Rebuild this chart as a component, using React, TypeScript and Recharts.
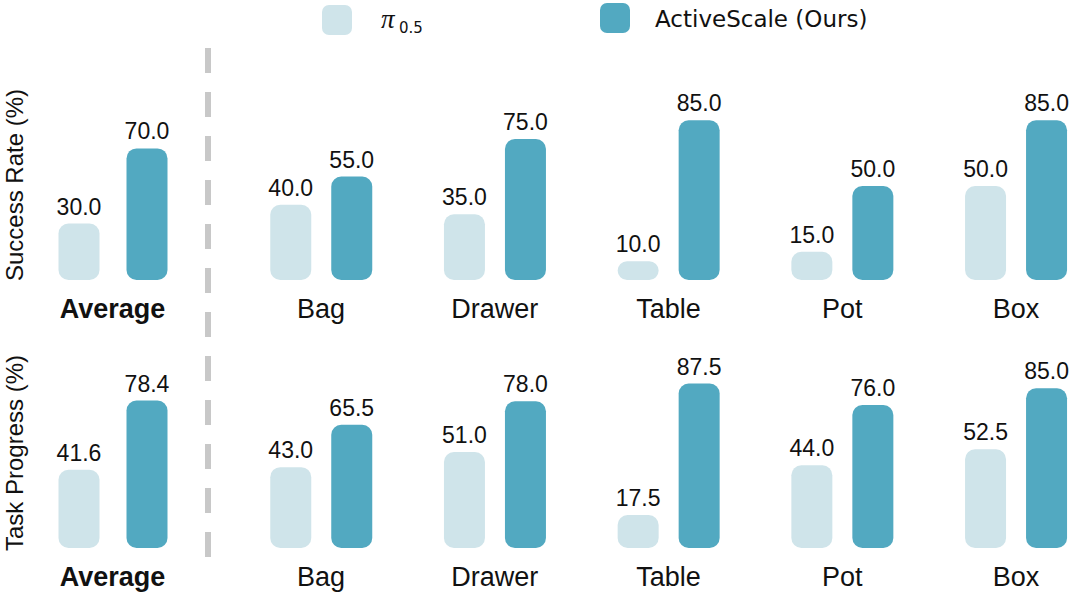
import { Bar, BarChart, LabelList, XAxis, YAxis } from "recharts";

const avgCategory = ["Average"];
const taskCategories = ["Bag", "Drawer", "Table", "Pot", "Box"];

const successBaseAvg = [30.0];
const successOursAvg = [70.0];
const successBase = [40.0, 35.0, 10.0, 15.0, 50.0];
const successOurs = [55.0, 75.0, 85.0, 50.0, 85.0];

const progressBaseAvg = [41.6];
const progressOursAvg = [78.4];
const progressBase = [43.0, 51.0, 17.5, 44.0, 52.5];
const progressOurs = [65.5, 78.0, 87.5, 76.0, 85.0];

const LIGHT = "#cfe4ea";
const DARK = "#52a9c1";
const FONT = "'Liberation Sans', Arial, Helvetica, sans-serif";

function build(names: string[], base: number[], ours: number[]) {
  return names.map((name, i) => ({ name, base: base[i], ours: ours[i] }));
}

function Row({
  names,
  base,
  ours,
  left,
  plotWidth,
  top,
  gap,
  bold,
}: {
  names: string[];
  base: number[];
  ours: number[];
  left: number;
  plotWidth: number;
  top: number;
  gap: number;
  bold?: boolean;
}) {
  const data = build(names, base, ours);
  const width = 1071;
  return (
    <div style={{ position: "absolute", left: 0, top }}>
      <BarChart
        width={width}
        height={290}
        data={data}
        margin={{ top: 52, right: width - left - plotWidth, bottom: 0, left }}
        barGap={gap}
        barSize={41}
      >
        <XAxis
          dataKey="name"
          axisLine={false}
          tickLine={false}
          tickSize={0}
          tickMargin={19}
          height={50}
          interval={0}
          tick={{
            fill: "#111",
            fontSize: 27,
            fontFamily: FONT,
            fontWeight: bold ? 700 : 400,
          }}
        />
        <YAxis hide domain={[0, 100]} />
        <Bar dataKey="base" fill={LIGHT} radius={[10, 10, 10, 10]} isAnimationActive={false}>
          <LabelList
            dataKey="base"
            position="top"
            offset={9}
            formatter={(v: number) => v.toFixed(1)}
            style={{ fill: "#111", fontSize: 23, fontFamily: FONT }}
          />
        </Bar>
        <Bar dataKey="ours" fill={DARK} radius={[10, 10, 10, 10]} isAnimationActive={false}>
          <LabelList
            dataKey="ours"
            position="top"
            offset={9}
            formatter={(v: number) => v.toFixed(1)}
            style={{ fill: "#111", fontSize: 23, fontFamily: FONT }}
          />
        </Bar>
      </BarChart>
    </div>
  );
}

export default function App() {
  return (
    <div
      style={{
        position: "fixed",
        left: 0,
        top: 0,
        width: 1071,
        height: 597,
        overflow: "hidden",
        background: "#fff",
        fontFamily: FONT,
      }}
    >
      <Row names={avgCategory} base={successBaseAvg} ours={successOursAvg} left={42.5} plotWidth={140} top={40} gap={27} bold />
      <Row names={taskCategories} base={successBase} ours={successOurs} left={234.25} plotWidth={868.5} top={40} gap={20} />
      <Row names={avgCategory} base={progressBaseAvg} ours={progressOursAvg} left={42.5} plotWidth={140} top={308} gap={27} bold />
      <Row names={taskCategories} base={progressBase} ours={progressOurs} left={234.25} plotWidth={868.5} top={308} gap={20} />

      <svg width={1071} height={597} style={{ position: "absolute", left: 0, top: 0, pointerEvents: "none" }}>
        {/* legend */}
        <rect x={322} y={5} width={30} height={30} rx={7} fill={LIGHT} />
        <text x={381} y={28} fontSize={27} fontStyle="italic" fontFamily="'Liberation Serif', serif" fill="#111">
          π
        </text>
        <text x={399} y={33} fontSize={15} fontFamily="'DejaVu Sans', sans-serif" fill="#111">
          0.5
        </text>
        <rect x={600} y={3} width={30} height={30} rx={7} fill={DARK} />
        <text x={655} y={27} fontSize={23} fontFamily="'DejaVu Sans', sans-serif" fill="#111">
          ActiveScale (Ours)
        </text>

        <line x1={208} y1={48} x2={208} y2={560} stroke="#c8c8c8" strokeWidth={6} strokeDasharray="25 19" />
        <text
          x={23}
          y={185}
          transform="rotate(-90 23 185)"
          textAnchor="middle"
          fontSize={24}
          fontFamily={FONT}
          fill="#111"
        >
          Success Rate (%)
        </text>
        <text
          x={23}
          y={453}
          transform="rotate(-90 23 453)"
          textAnchor="middle"
          fontSize={24}
          fontFamily={FONT}
          fill="#111"
        >
          Task Progress (%)
        </text>
      </svg>
    </div>
  );
}
